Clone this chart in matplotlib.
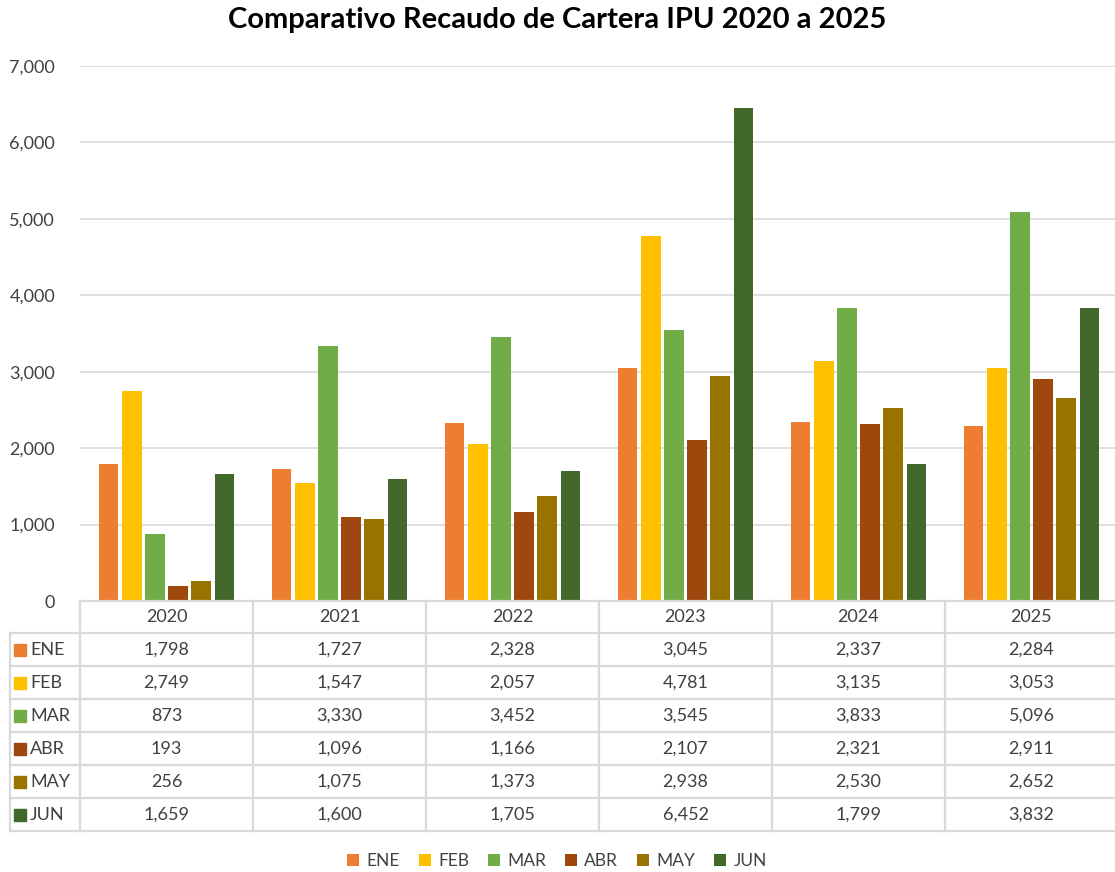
import matplotlib
matplotlib.use("Agg")
import matplotlib.pyplot as plt
import matplotlib.transforms as mtransforms
from matplotlib.lines import Line2D
from matplotlib.patches import Patch
import numpy as np

plt.rcParams['font.family'] = ['Lato', 'DejaVu Sans']

years = ["2020", "2021", "2022", "2023", "2024", "2025"]
months = ["ENE", "FEB", "MAR", "ABR", "MAY", "JUN"]
ene = [1798, 1727, 2328, 3045, 2337, 2284]
feb = [2749, 1547, 2057, 4781, 3135, 3053]
mar = [873, 3330, 3452, 3545, 3833, 5096]
abr = [193, 1096, 1166, 2107, 2321, 2911]
may = [256, 1075, 1373, 2938, 2530, 2652]
jun = [1659, 1600, 1705, 6452, 1799, 3832]
series = [ene, feb, mar, abr, may, jun]
colors = ["#ED7D31", "#FFC000", "#70AD47", "#9E480E", "#997300", "#43682B"]

W, H = 1115, 872
fig = plt.figure(figsize=(W / 100, H / 100), dpi=100)
ax_l, ax_r, ax_t, ax_b = 80, 1118, 66, 601
ax = fig.add_axes([ax_l / W, 1 - ax_b / H, (ax_r - ax_l) / W, (ax_b - ax_t) / H])

x = np.arange(len(years))
step = 0.133
width = 0.11
for i, (vals, c) in enumerate(zip(series, colors)):
    ax.bar(x + (i - 2.5) * step, vals, width=width, color=c, zorder=3)

ax.set_xlim(-0.5, 5.5)
ax.set_ylim(0, 7000)
ax.set_yticks(range(0, 7001, 1000))
ax.set_yticklabels([f"{v:,}" for v in range(0, 7001, 1000)], fontsize=13, color="#404040")
ax.tick_params(axis="y", length=0, pad=18)
ax.set_xticks([])
ax.grid(axis="y", color="#D9D9D9", linewidth=1.2, zorder=0)
for s in ax.spines.values():
    s.set_visible(False)

fig.text(0.5, 1 - 20 / H, "Comparativo Recaudo de Cartera IPU 2020 a 2025",
         ha="center", va="center", fontsize=21, fontweight="bold", color="black")

# data table drawn in pixel coordinates of the figure
px = mtransforms.Affine2D().scale(1 / W, -1 / H).translate(0, 1) + fig.transFigure
line_kw = dict(color="#D9D9D9", linewidth=1.6, transform=px, clip_on=False)
row_h = 33
hdr_top, hdr_bot = 601, 633
col_w = (ax_r - ax_l) / len(years)
bottom = hdr_bot + row_h * len(months)

fig.add_artist(Line2D([ax_l, ax_r], [hdr_top, hdr_top], **line_kw))
for k in range(len(months) + 1):
    yy = hdr_bot + k * row_h
    fig.add_artist(Line2D([10, ax_r], [yy, yy], **line_kw))
fig.add_artist(Line2D([10, 10], [hdr_bot, bottom], **line_kw))
for j in range(len(years) + 1):
    xx = ax_l + j * col_w
    fig.add_artist(Line2D([xx, xx], [hdr_top, bottom], **line_kw))

for j, yr in enumerate(years):
    fig.text((ax_l + (j + 0.5) * col_w) / W, 1 - (hdr_top + hdr_bot) / 2 / H, yr,
             ha="center", va="center", fontsize=13, color="#404040")
for k, (m, vals, c) in enumerate(zip(months, series, colors)):
    yc = hdr_bot + (k + 0.5) * row_h
    fig.add_artist(Line2D([20], [yc], marker="s", markersize=8, color=c,
                          linestyle="none", transform=px, clip_on=False))
    fig.text(30 / W, 1 - yc / H, m, ha="left", va="center", fontsize=13, color="#404040")
    for j, v in enumerate(vals):
        fig.text((ax_l + (j + 0.5) * col_w) / W, 1 - yc / H, f"{v:,}",
                 ha="center", va="center", fontsize=13, color="#404040")

handles = [Patch(facecolor=c, edgecolor="none") for c in colors]
fig.legend(handles, months, loc="center", bbox_to_anchor=(557 / W, 1 - 861 / H),
           ncol=6, frameon=False, fontsize=12.5, handlelength=0.7, handleheight=0.7,
           handletextpad=0.4, columnspacing=1.1, labelcolor="#404040")

fig.savefig("out.png", dpi=100)
